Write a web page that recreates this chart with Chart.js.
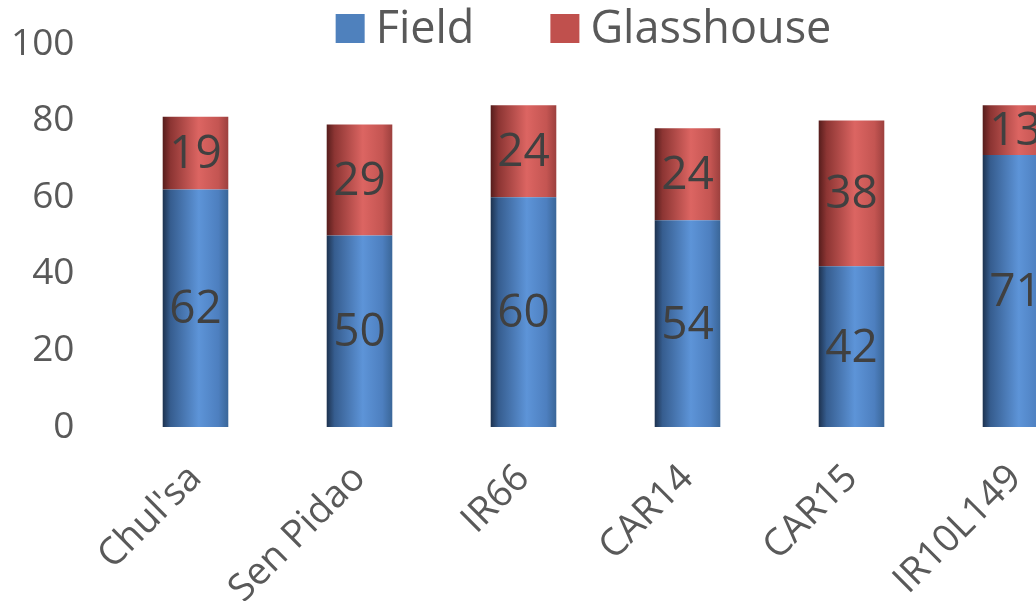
<!DOCTYPE html>
<html>
<head>
<meta charset="utf-8">
<title>Field vs Glasshouse</title>
<script src="https://cdn.jsdelivr.net/npm/chart.js@4/dist/chart.umd.min.js"></script>
<style>
  html, body { margin: 0; padding: 0; background: #ffffff; overflow: hidden; }
  #wrap { position: relative; width: 1100px; height: 601px; }
</style>
</head>
<body>
<div id="wrap"><canvas id="chart"></canvas></div>
<script>
// Rice varieties and the two stacked measurements for each
const varieties = ["Chul'sa", "Sen Pidao", "IR66", "CAR14", "CAR15", "IR10L149"];
const fieldValues = [62, 50, 60, 54, 42, 71];
const glasshouseValues = [19, 29, 24, 24, 38, 13];
const yTickValues = [0, 20, 40, 60, 80, 100];
const seriesNames = ["Field", "Glasshouse"];

// Flat key colours and the cylinder-style shading used on the bars
const seriesColors = ["#4f81bd", "#c0504d"];
const shadeStops = [
  [[0, "#1d324f"], [0.12, "#365d8f"], [0.55, "#5d94d8"], [0.85, "#4d7fbf"], [1, "#3a6698"]],
  [[0, "#561d1c"], [0.12, "#8c3533"], [0.55, "#dc6562"], [0.85, "#c45552"], [1, "#9c403e"]]
];

const CATEGORY_PCT = 0.4;
const TEXT = "#595959";
const FONT = '"Open Sans", "Noto Sans", sans-serif';

// Horizontal gradient across each bar, built from the bar's own pixel position
function barShade(series) {
  return (ctx) => {
    const chart = ctx.chart;
    const xs = chart.scales && chart.scales.x;
    if (!xs || !chart.chartArea || ctx.dataIndex === undefined) return seriesColors[series];
    const cx = xs.getPixelForValue(ctx.dataIndex);
    const half = (xs.width / varieties.length) * CATEGORY_PCT / 2;
    const g = chart.ctx.createLinearGradient(cx - half, 0, cx + half, 0);
    shadeStops[series].forEach(([o, c]) => g.addColorStop(o, c));
    return g;
  };
}

// Writes each segment's value in the middle of its bar segment
const valueLabels = {
  id: "valueLabels",
  afterDatasetsDraw(chart) {
    const ctx = chart.ctx;
    ctx.save();
    ctx.font = "46px " + FONT;
    ctx.fillStyle = "#404040";
    ctx.textAlign = "center";
    ctx.textBaseline = "middle";
    chart.data.datasets.forEach((ds, di) => {
      chart.getDatasetMeta(di).data.forEach((bar, i) => {
        const p = bar.getProps(["x", "y", "base"], true);
        ctx.fillText(String(ds.data[i]), p.x, (p.y + p.base) / 2 + 2);
      });
    });
    ctx.restore();
  }
};

// Compact key across the top: square swatch, tight gap, series name
const keyLegend = {
  id: "keyLegend",
  afterDraw(chart, args, opts) {
    const ctx = chart.ctx;
    ctx.save();
    ctx.font = opts.fontSize + "px " + FONT;
    ctx.textBaseline = "alphabetic";
    ctx.textAlign = "left";
    const items = chart.data.datasets.map((ds, i) => ({
      text: ds.label, color: seriesColors[i], w: ctx.measureText(ds.label).width
    }));
    const total = items.reduce((s, it) => s + opts.box + opts.gap + it.w, 0) + opts.spacing * (items.length - 1);
    let x = opts.centerX - total / 2;
    items.forEach((it) => {
      ctx.fillStyle = it.color;
      ctx.fillRect(x, opts.boxTop, opts.box, opts.box);
      x += opts.box + opts.gap;
      ctx.fillStyle = TEXT;
      ctx.fillText(it.text, x, opts.baseline);
      x += it.w + opts.spacing;
    });
    ctx.restore();
  }
};

new Chart(document.getElementById("chart"), {
  type: "bar",
  data: {
    labels: varieties,
    datasets: [
      { label: seriesNames[0], data: fieldValues, backgroundColor: barShade(0) },
      { label: seriesNames[1], data: glasshouseValues, backgroundColor: barShade(1) }
    ]
  },
  options: {
    responsive: true,
    maintainAspectRatio: false,
    animation: false,
    layout: { padding: { top: 44, right: 2.5, bottom: 0, left: 0 } },
    datasets: { bar: { barPercentage: 1, categoryPercentage: CATEGORY_PCT, borderWidth: 0 } },
    plugins: {
      legend: { display: false },
      tooltip: { enabled: false },
      keyLegend: { fontSize: 45, box: 29, gap: 11, spacing: 76, centerX: 583.5, boxTop: 14, baseline: 43 }
    },
    scales: {
      x: {
        stacked: true,
        grid: { display: false, drawTicks: false },
        border: { display: false },
        ticks: {
          color: TEXT,
          font: { family: FONT, size: 38 },
          minRotation: 45,
          maxRotation: 45,
          autoSkip: false,
          padding: 29
        },
        afterFit(scale) { scale.height = 174; }
      },
      y: {
        stacked: true,
        min: 0,
        max: 100,
        grid: { display: false, drawTicks: false },
        border: { display: false },
        ticks: {
          color: TEXT,
          font: { family: FONT, size: 37 },
          padding: 39
        },
        afterBuildTicks(scale) { scale.ticks = yTickValues.map((v) => ({ value: v })); },
        afterFit(scale) {
          scale.width = 113.5;
          scale.paddingTop = 0;
          scale.paddingBottom = 0;
        }
      }
    }
  },
  plugins: [valueLabels, keyLegend]
});
</script>
</body>
</html>
